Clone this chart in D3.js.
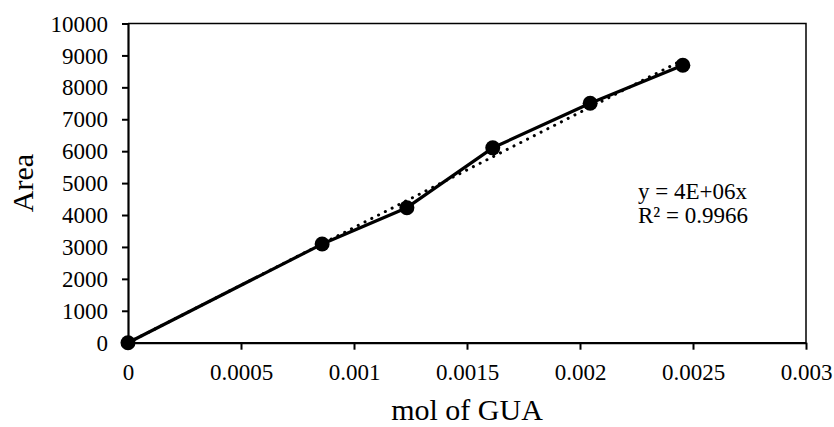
<!DOCTYPE html>
<html>
<head>
<meta charset="utf-8">
<script src="https://cdn.jsdelivr.net/npm/d3@7"></script>
<style>
  body { margin: 0; background: #fff; }
  svg text { font-family: "Liberation Serif", "Times New Roman", serif !important; fill: #000; }
</style>
</head>
<body>
<svg id="chart" width="834" height="427"></svg>
<script>
// values
const molGUA = [0, 0.000859, 0.001234, 0.001614, 0.002045, 0.002455]
const area = [0, 3090, 4230, 6105, 7500, 8690]
const xTicks = [0, 0.0005, 0.001, 0.0015, 0.002, 0.0025, 0.003]
const yTicks = [0, 1000, 2000, 3000, 4000, 5000, 6000, 7000, 8000, 9000, 10000]
const eqLabel = "y = 4E+06x"
const r2Label = "R² = 0.9966"

const serif = "'Liberation Serif', 'Times New Roman', serif"
const svg = d3.select("#chart")
const plotL = 128, plotR = 806, plotT = 23.5, plotB = 342.7

const x = d3.scaleLinear().domain([0, 0.003]).range([plotL, plotR])
const y = d3.scaleLinear().domain([0, 10000]).range([plotB, plotT])

// frame (top + right thin)
svg.append("path")
  .attr("d", `M${plotL},${plotT}H${plotR}V${plotB}`)
  .attr("fill", "none").attr("stroke", "#000").attr("stroke-width", 1.5)

const xAxis = svg.append("g")
  .attr("transform", `translate(0,${plotB})`)
  .call(d3.axisBottom(x).tickValues(xTicks).tickFormat(d => String(+d.toFixed(4))).tickSize(7).tickSizeOuter(0))
  .attr("font-family", serif).attr("font-size", 23)
xAxis.select(".domain").attr("stroke-width", 2.2)
xAxis.selectAll(".tick line").attr("stroke-width", 2)
xAxis.selectAll("text")
  .style("font-family", serif).style("font-size", "23px")
  .attr("dy", null).attr("y", 37)

const yAxis = svg.append("g")
  .attr("transform", `translate(${plotL},0)`)
  .call(d3.axisLeft(y).tickValues(yTicks).tickFormat(d3.format("d")).tickSize(6).tickSizeOuter(0))
  .attr("font-family", serif).attr("font-size", 23)
yAxis.select(".domain").attr("stroke-width", 2.2)
yAxis.selectAll(".tick line").attr("stroke-width", 2)
yAxis.selectAll("text")
  .style("font-family", serif).style("font-size", "23px")
  .attr("x", -20).attr("dy", "0.33em")

// linear trend through origin
const slope = d3.sum(molGUA, (d, i) => d * area[i]) / d3.sum(molGUA, d => d * d)
const xMax = d3.max(molGUA)
svg.append("line")
  .attr("x1", x(0)).attr("y1", y(0))
  .attr("x2", x(xMax)).attr("y2", y(slope * xMax))
  .attr("stroke", "#000").attr("stroke-width", 3)
  .attr("stroke-linecap", "round").attr("stroke-dasharray", "0.1 7.5")

const pts = molGUA.map((d, i) => [d, area[i]])
svg.append("path")
  .datum(pts)
  .attr("fill", "none").attr("stroke", "#000").attr("stroke-width", 3.2)
  .attr("stroke-linejoin", "round")
  .attr("d", d3.line().x(d => x(d[0])).y(d => y(d[1])))

svg.selectAll("circle.pt")
  .data(pts)
  .enter().append("circle")
  .attr("class", "pt")
  .attr("cx", d => x(d[0])).attr("cy", d => y(d[1]))
  .attr("r", 7.5).attr("fill", "#000")

svg.append("text").text(eqLabel)
  .attr("x", 638).attr("y", 199).style("font-size", "23px")
svg.append("text").text(r2Label)
  .attr("x", 638).attr("y", 223).style("font-size", "23px")

svg.append("text").text("mol of GUA")
  .attr("x", (plotL + plotR) / 2).attr("y", 420)
  .attr("text-anchor", "middle").style("font-size", "30px")

svg.append("text").text("Area")
  .attr("transform", `translate(33,${(plotT + plotB) / 2}) rotate(-90)`)
  .attr("text-anchor", "middle").style("font-size", "30px")
</script>
</body>
</html>
